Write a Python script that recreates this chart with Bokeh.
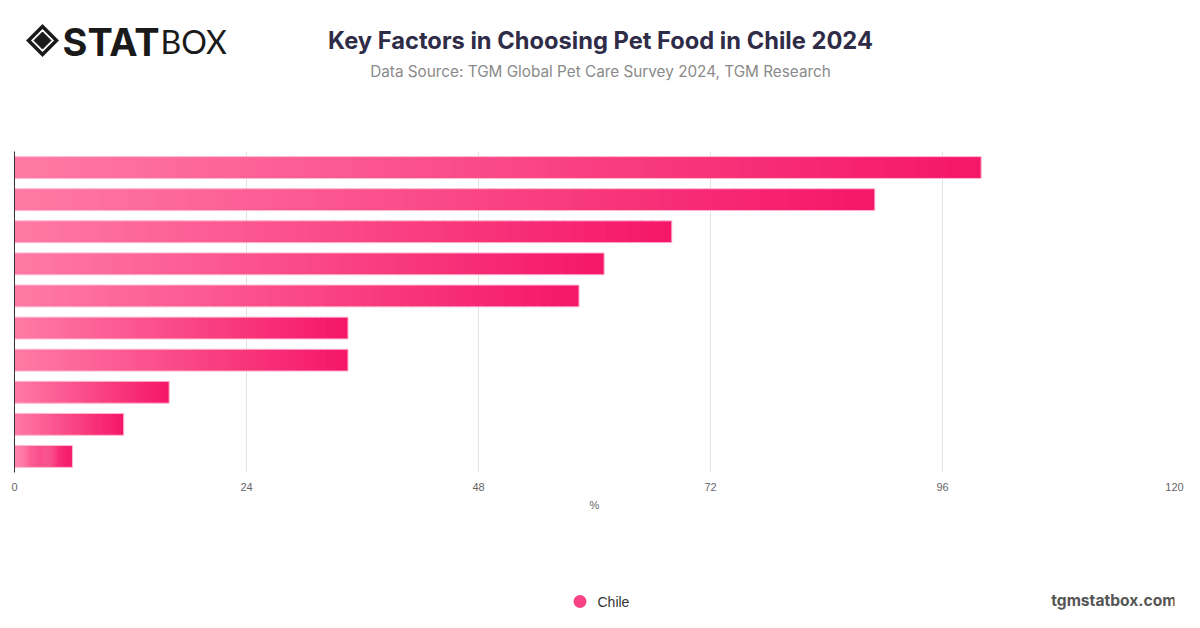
from bokeh.plotting import figure
from bokeh.layouts import column
from bokeh.models import Range1d, FixedTicker, ColumnDataSource
from bokeh.core.properties import value
from bokeh.embed import file_html
from bokeh.resources import INLINE

# ---- data ----
series_name = "Chile"
values = [100, 89, 68, 61, 58.4, 34.5, 34.5, 16, 11.3, 6]
x_ticks = [0, 24, 48, 72, 96, 120]
x_max = 120
title = "Key Factors in Choosing Pet Food in Chile 2024"
subtitle = "Data Source: TGM Global Pet Care Survey 2024, TGM Research"
footer = "tgmstatbox.com"

# ---- style ----
C_LEFT = (255, 122, 166)
C_RIGHT = (245, 22, 104)
N_SLICES = 60
BAR_H = 0.68
W = 1184
FL, FR = 14, 1174  # frame left/right in picture px

def mix(t):
    r = int(round(C_LEFT[0] + (C_RIGHT[0] - C_LEFT[0]) * t))
    g = int(round(C_LEFT[1] + (C_RIGHT[1] - C_LEFT[1]) * t))
    b = int(round(C_LEFT[2] + (C_RIGHT[2] - C_LEFT[2]) * t))
    return "#%02x%02x%02x" % (r, g, b)

# ---------------- header ----------------
hdr = figure(width=W, height=151, x_range=Range1d(FL, FR), y_range=Range1d(151, 0),
             output_backend="svg", toolbar_location=None, title=None,
             min_border_left=FL, min_border_right=W - FR, min_border_top=0, min_border_bottom=0,
             outline_line_color=None)
hdr.axis.visible = False
hdr.grid.visible = False

# logo icon
cx, cy = 42, 40
hdr.patch([cx - 14, cx, cx + 14, cx], [cy, cy - 14, cy, cy + 14], fill_color=None,
          line_color="#1a1a1a", line_width=3.5, line_join="miter")
hdr.patch([cx - 8.5, cx, cx + 8.5, cx], [cy, cy - 8.5, cy, cy + 8.5], fill_color="#1a1a1a",
          line_color="#1a1a1a", line_width=1)
hdr.text(x=[62], y=[41], text=["STAT"], text_font=value("Inter"), text_font_style="bold",
         text_font_size="38px", text_color="#1a1a1a", text_baseline="middle", text_align="left")
hdr.text(x=[160], y=[41], text=["BOX"], text_font=value("Lato"), text_font_style="normal",
         text_font_size="32px", text_color="#1a1a1a", text_baseline="middle", text_align="left")

hdr.text(x=[600], y=[40], text=[title], text_font=value("Inter"), text_font_style="bold",
         text_font_size="23.7px", text_color="#2f2c47", text_baseline="middle", text_align="center")
hdr.text(x=[600], y=[71], text=[subtitle], text_font=value("Inter"),
         text_font_size="15.3px", text_color="#8a8a8a", text_baseline="middle", text_align="center")

# ---------------- main chart ----------------
n = len(values)
p = figure(width=W, height=369, x_range=Range1d(0, x_max), y_range=Range1d(n, 0),
           output_backend="svg", toolbar_location=None, title=None,
           min_border_left=FL, min_border_right=W - FR, min_border_top=0, min_border_bottom=48,
           outline_line_color=None)

ys = [i + 0.5 for i in range(n)]
sl_left, sl_right, sl_y, sl_col = [], [], [], []
for v, y in zip(values, ys):
    for j in range(N_SLICES):
        l = v * j / N_SLICES
        r = min(v, v * (j + 1.4) / N_SLICES)
        sl_left.append(l)
        sl_right.append(r)
        sl_y.append(y)
        sl_col.append(mix((j + 0.5) / N_SLICES))
slices = ColumnDataSource(dict(left=sl_left, right=sl_right, y=sl_y, color=sl_col))
p.hbar(y="y", left="left", right="right", height=BAR_H, source=slices,
       fill_color="color", line_color=None)

bars = ColumnDataSource(dict(y=ys, right=values))
p.hbar(y="y", left=0, right="right", height=BAR_H, source=bars,
       fill_alpha=0, line_color="#ffb8d0", line_width=1)

p.xaxis.ticker = FixedTicker(ticks=x_ticks)
p.xaxis.axis_line_color = None
p.xaxis.major_tick_line_color = None
p.xaxis.minor_tick_line_color = None
p.xaxis.major_label_text_font = "Liberation Sans"
p.xaxis.major_label_text_font_size = "11px"
p.xaxis.major_label_text_color = "#666666"
p.xaxis.major_label_standoff = 4
p.xaxis.axis_label = "%"
p.xaxis.axis_label_text_font = "Liberation Sans"
p.xaxis.axis_label_text_font_size = "11px"
p.xaxis.axis_label_text_font_style = "normal"
p.xaxis.axis_label_text_color = "#666666"
p.xaxis.axis_label_standoff = 5

p.yaxis.ticker = FixedTicker(ticks=[])
p.yaxis.major_label_text_font_size = "0px"
p.yaxis.major_tick_line_color = None
p.yaxis.minor_tick_line_color = None
p.yaxis.major_label_standoff = 0
p.yaxis.axis_line_color = "#333333"
p.yaxis.axis_line_width = 1

p.xgrid.grid_line_color = "#e3e3e3"
p.xgrid.grid_line_width = 1
p.ygrid.grid_line_color = None

# ---------------- footer ----------------
ftr = figure(width=W, height=92, x_range=Range1d(FL, FR), y_range=Range1d(612, 520),
             output_backend="svg", toolbar_location=None, title=None,
             min_border_left=FL, min_border_right=W - FR, min_border_top=0, min_border_bottom=0,
             outline_line_color=None)
ftr.axis.visible = False
ftr.grid.visible = False
ftr.scatter(x=[579.5], y=[601], size=13, marker="circle", fill_color=mix(0.55), line_color=None)
ftr.text(x=[597], y=[601], text=[series_name], text_font=value("Liberation Sans"),
         text_font_size="14px", text_color="#333333", text_baseline="middle", text_align="left")
ftr.text(x=[1176], y=[600], text=[footer], text_font=value("Inter"), text_font_style="bold",
         text_font_size="15.6px", text_color="#555555", text_baseline="middle", text_align="right")

layout = column(hdr, p, ftr, spacing=0)
open("out.html", "w").write(file_html(layout, INLINE))
